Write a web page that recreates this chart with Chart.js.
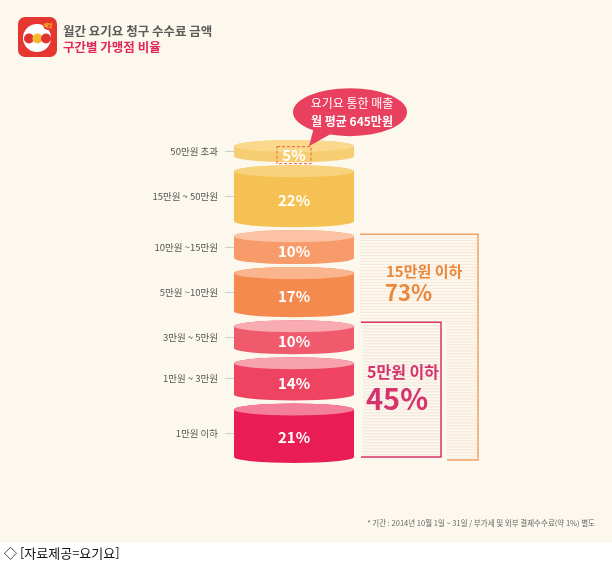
<!DOCTYPE html>
<html lang="ko">
<head>
<meta charset="utf-8">
<title>월간 요기요 청구 수수료 금액</title>
<script src="https://cdn.jsdelivr.net/npm/chart.js@4.4.1/dist/chart.umd.min.js"></script>
<style>
html,body{margin:0;padding:0;background:#fff;}
canvas{display:block;}
</style>
</head>
<body>
<canvas id="feeChart" width="612" height="564"></canvas>
<script>
// 구간별 가맹점 비율 (아래 -> 위)
const bands = ["1만원 이하","1만원 ~ 3만원","3만원 ~ 5만원","5만원 ~10만원","10만원 ~15만원","15만원 ~ 50만원","50만원 초과"];
const shares = [21,14,10,17,10,22,5];
const bodyColors = ["#e91c56","#ee4461","#ef5a6c","#f58a4e","#f89b6b","#f5c153","#f7cd72"];
const capColors = ["#f47f9b","#f8a2ad","#f9abb2","#fab58e","#fbc3a3","#f8d27c","#fad98d"];

// 묶음 요약
const groupLabels = ["15만원 이하","5만원 이하"];
const groupShares = [73,45];
const groupBands = [5,3]; // 아래에서부터 포함되는 구간 수

const FONT = '"Noto Sans CJK KR","Noto Sans",sans-serif';
const CAP = 4.6;  // 윗면+아랫면 몫 (축 단위)
const GAP = 1.3;
const RY = 6;

let lo = 0;
const ranges = shares.map(v => {
  const r = [lo, lo + v + CAP];
  lo = r[1] + GAP;
  return r;
});
const TOTAL = lo - GAP;
const mids = ranges.map(r => (r[0] + r[1]) / 2);

function stripes(c, x1, x2, y1, y2, color){
  c.fillStyle = color;
  for(let y = y1; y < y2; y += 3) c.fillRect(x1, y, x2 - x1, 1);
}

const cylinder = {
  id: "cylinder",
  beforeDraw(chart){
    const c = chart.ctx;
    c.save();
    c.fillStyle = "#fcf8ee";
    c.fillRect(0, 0, chart.width, 543);
    c.restore();
  },
  beforeDatasetDraw(chart, args){
    const el = args.meta.data[0];
    const ds = chart.data.datasets[args.index];
    const c = chart.ctx;
    const rx = el.width / 2, cx = el.x;
    const top = Math.min(el.y, el.base) + RY;
    const bot = Math.max(el.y, el.base) - RY;
    c.save();
    c.beginPath();
    c.moveTo(cx - rx, top);
    c.lineTo(cx - rx, bot);
    c.ellipse(cx, bot, rx, RY, 0, Math.PI, 0, true);
    c.lineTo(cx + rx, top);
    c.ellipse(cx, top, rx, RY, 0, 0, Math.PI, true);
    c.closePath();
    c.fillStyle = ds.backgroundColor;
    c.fill();
    c.beginPath();
    c.ellipse(cx, top, rx, RY, 0, 0, Math.PI * 2);
    c.fillStyle = ds.capColor;
    c.fill();
    c.restore();
    return false;
  },
  afterDatasetsDraw(chart){
    const c = chart.ctx;
    const els = chart.data.datasets.map((d, i) => chart.getDatasetMeta(i).data[0]);
    const right = chart.chartArea.right;
    c.save();

    // 퍼센트 라벨
    c.textAlign = "center";
    c.textBaseline = "middle";
    c.fillStyle = "#fff";
    c.font = "bold 15px " + FONT;
    let lx = 0, ly = 0;
    els.forEach((el, i) => {
      const y = (Math.min(el.y, el.base) + RY + Math.max(el.y, el.base)) / 2 + 1;
      c.fillText(shares[i] + "%", el.x, y);
      lx = el.x; ly = y;
    });

    // 최상위 구간 강조 박스
    c.setLineDash([3, 2]);
    c.strokeStyle = "#e8604a";
    c.lineWidth = 1;
    c.strokeRect(lx - 17, ly - 8.5, 34, 17);
    c.setLineDash([]);

    // 말풍선
    const bx = lx + 56, by = ly - 43;
    c.fillStyle = "#e8405e";
    c.beginPath();
    c.ellipse(bx, by, 57, 24, 0, 0, Math.PI * 2);
    c.fill();
    c.beginPath();
    c.moveTo(bx - 36, by + 15);
    c.lineTo(lx + 15, ly - 9);
    c.lineTo(bx - 18, by + 21);
    c.closePath();
    c.fill();
    c.fillStyle = "#fff";
    c.font = "12px " + FONT;
    c.fillText("요기요 통한 매출", bx + 2, by - 9);
    c.font = "bold 12px " + FONT;
    c.fillText("월 평균 645만원", bx + 2, by + 9);

    // 누적 구간 브래킷
    const oTop = Math.min(els[groupBands[0] - 1].y, els[groupBands[0] - 1].base) + 4;
    const pTop = Math.min(els[groupBands[1] - 1].y, els[groupBands[1] - 1].base) + 2;
    const bottom = Math.max(els[0].y, els[0].base);
    const oL = right + 6, oR = right + 124, oB = bottom - 3;
    const pL = right + 7, pR = right + 87, pB = bottom - 6;

    stripes(c, oL, oR - 1, oTop + 3, pTop - 1, "#f6e6d9");
    stripes(c, pL + 2, pR - 1, pTop + 3, pB - 1, "#f4e2dc");
    stripes(c, pR + 6, oR - 1, pTop + 1, oB - 1, "#f6e6d9");

    c.lineWidth = 1.5;
    c.strokeStyle = "#f0a263";
    c.beginPath();
    c.moveTo(oL, oTop); c.lineTo(oR, oTop); c.lineTo(oR, oB); c.lineTo(pR + 6, oB);
    c.stroke();
    c.strokeStyle = "#d4336b";
    c.beginPath();
    c.moveTo(pL, pTop); c.lineTo(pR, pTop); c.lineTo(pR, pB); c.lineTo(pL, pB);
    c.stroke();

    c.textAlign = "left";
    c.textBaseline = "alphabetic";
    c.fillStyle = "#e9883a";
    c.font = "bold 15px " + FONT;
    c.fillText(groupLabels[0], oL + 26, oTop + 43);
    c.font = "bold 22px " + FONT;
    c.fillText(groupShares[0] + "%", oL + 25, oTop + 67);
    c.fillStyle = "#d6336c";
    c.font = "bold 16px " + FONT;
    c.fillText(groupLabels[1], pL + 6, pTop + 56);
    c.font = "bold 29px " + FONT;
    c.fillText(groupShares[1] + "%", pL + 5, pTop + 88);

    // 로고
    c.fillStyle = "#e5372f";
    c.beginPath();
    c.roundRect(18, 17, 39, 40, 7);
    c.fill();
    c.fillStyle = "#fff";
    c.beginPath();
    c.arc(37, 38, 14, 0, Math.PI * 2);
    c.fill();
    [[29, "#e2322f"], [37.5, "#f5b82e"], [46, "#e2322f"]].forEach(([x, col]) => {
      c.fillStyle = col;
      c.beginPath();
      c.arc(x, 38.5, 5, 0, Math.PI * 2);
      c.fill();
    });
    c.fillStyle = "#e5372f";
    c.beginPath();
    c.arc(48, 25, 5, 0, Math.PI * 2);
    c.fill();
    c.fillStyle = "#f5b82e";
    c.font = "bold 5px " + FONT;
    c.textAlign = "center";
    c.fillText("배달", 48, 27);
    c.textAlign = "left";

    // 제목
    c.fillStyle = "#5a5a5a";
    c.font = "bold 12.5px " + FONT;
    c.fillText("월간 요기요 청구 수수료 금액", 63, 36);
    c.fillStyle = "#e0275e";
    c.fillText("구간별 가맹점 비율", 63, 52);

    // 주석 / 출처
    c.textAlign = "right";
    c.fillStyle = "#666";
    c.font = "7.5px " + FONT;
    c.fillText("* 기간 : 2014년 10월 1일 ~ 31일 / 부가세 및 외부 결제수수료(약 1%) 별도", 595, 526);
    c.textAlign = "left";
    c.fillStyle = "#111";
    c.font = "13px " + FONT;
    c.fillText("◇ [자료제공=요기요]", 4, 558);
    c.restore();
  }
};

new Chart(document.getElementById("feeChart"), {
  type: "bar",
  data: {
    labels: [""],
    datasets: bands.map((b, i) => ({
      label: b,
      data: [ranges[i]],
      backgroundColor: bodyColors[i],
      capColor: capColors[i],
      barPercentage: 1,
      categoryPercentage: 1
    }))
  },
  options: {
    responsive: false,
    animation: false,
    layout: { padding: { left: 0, right: 258, top: 140, bottom: 101 } },
    plugins: { legend: { display: false }, tooltip: { enabled: false } },
    scales: {
      x: { stacked: true, display: false },
      y: {
        min: 0,
        max: TOTAL,
        afterFit(s){ s.width = 234; },
        afterBuildTicks(s){ s.ticks = mids.map(v => ({ value: v })); },
        ticks: {
          autoSkip: false,
          padding: 7,
          color: "#555",
          font: { family: FONT, size: 9.5 },
          callback: (v, i) => bands[i]
        },
        grid: { drawOnChartArea: false, tickLength: 9, color: "#cfcfcf" },
        border: { display: false }
      }
    }
  },
  plugins: [cylinder]
});
</script>
</body>
</html>
